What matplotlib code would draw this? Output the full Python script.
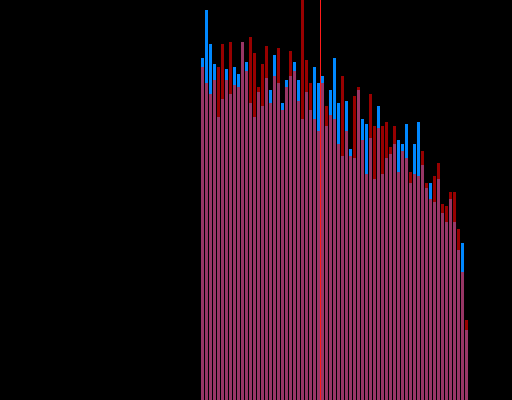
import matplotlib
matplotlib.use("Agg")
import matplotlib.pyplot as plt
import numpy as np

# bin index of each bar
bins = list(range(67))

series_blue = [342, 390, 356, 336, 283, 301, 331, 306, 333, 326, 358, 338, 297, 283, 308, 294,
               322, 310, 345, 317, 297, 320, 324, 338, 320, 281, 308, 290, 333, 317, 324, 274,
               310, 342, 297, 244, 299, 251, 242, 310, 281, 276, 262, 221, 294, 226, 242, 246,
               256, 260, 256, 276, 217, 256, 278, 235, 212, 217, 198, 221, 187, 178, 201, 178,
               150, 157, 70]
series_red = [333, 317, 306, 320, 333, 356, 320, 358, 315, 313, 358, 329, 363, 347, 313, 336,
              354, 297, 324, 352, 290, 313, 349, 329, 299, 410, 340, 317, 281, 269, 317, 294,
              285, 281, 256, 324, 269, 244, 304, 313, 260, 226, 306, 274, 272, 274, 278, 253,
              274, 228, 249, 242, 228, 226, 224, 249, 217, 201, 224, 237, 196, 194, 208, 208,
              171, 128, 80]
marker_x = 29.5

fig = plt.figure(figsize=(5.12, 4.0), dpi=100, facecolor="black")
ax = fig.add_axes([0, 0, 1, 1])
ax.set_facecolor("black")

ax.bar(bins, series_blue, width=0.75, color="#0088ff", linewidth=0)
ax.bar(bins, series_red, width=0.75, color="#ff0000", alpha=0.6, linewidth=0)
ax.axvspan(marker_x - 0.125, marker_x + 0.125, color="#ff1a1a", linewidth=0)

ax.set_xlim(-50.625, 77.375)
ax.set_ylim(0, 400)
ax.axis("off")

fig.savefig("out.png", dpi=100, facecolor="black")
